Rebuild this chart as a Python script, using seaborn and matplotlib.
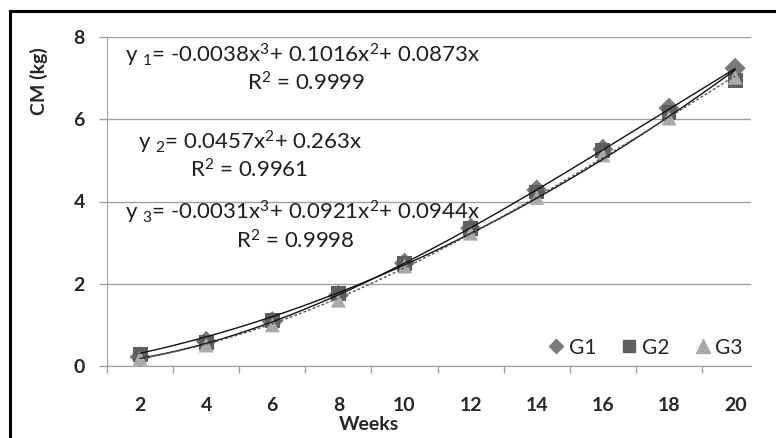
import matplotlib
matplotlib.use("Agg")
import matplotlib.pyplot as plt
import seaborn as sns
import pandas as pd
import numpy as np
from matplotlib.patches import Rectangle
from matplotlib.lines import Line2D

weeks = [2, 4, 6, 8, 10, 12, 14, 16, 18, 20]
g1 = [0.22, 0.60, 1.08, 1.72, 2.50, 3.35, 4.28, 5.27, 6.27, 7.24]
g2 = [0.27, 0.58, 1.10, 1.77, 2.50, 3.35, 4.23, 5.25, 6.17, 6.95]
g3 = [0.19, 0.51, 1.00, 1.60, 2.43, 3.23, 4.10, 5.13, 6.03, 7.02]
groups = ["G1", "G2", "G3"]

# trendline coefficients (x = category index), highest power first
coef1 = [-0.0038, 0.1016, 0.0873, 0]
coef2 = [0.0457, 0.263, 0]
coef3 = [-0.0031, 0.0921, 0.0944, 0]

sns.set_style("white")
plt.rcParams['font.family'] = ['Lato', 'DejaVu Sans']
plt.rcParams['mathtext.fontset'] = 'custom'
plt.rcParams['mathtext.rm'] = 'Lato'
plt.rcParams['mathtext.it'] = 'Lato'

idx = np.arange(1, len(weeks) + 1)
DF = pd.DataFrame({
    "idx": np.tile(idx, 3),
    "CM": g1 + g2 + g3,
    "grp": np.repeat(groups, len(weeks)),
})

fig = plt.figure(figsize=(7.76, 4.38), dpi=100)
ax = fig.add_axes([107/776, 1-366/438, (751-107)/776, (366-37)/438])

# trend lines
xs = np.linspace(1, 10, 200)
trend = pd.DataFrame({"x": np.tile(xs, 3),
                      "y": np.concatenate([np.polyval(coef1, xs),
                                           np.polyval(coef2, xs),
                                           np.polyval(coef3, xs)]),
                      "t": np.repeat(["y1", "y2", "y3"], len(xs))})

sns.scatterplot(data=DF, x="idx", y="CM", hue="grp", style="grp",
                markers={"G1": "D", "G2": "s", "G3": "^"},
                palette={"G1": "#7a7a7a", "G2": "#5f5f5f", "G3": "#a9a9a9"},
                s=115, linewidth=0, ax=ax, zorder=3, legend=False)
sns.lineplot(data=trend, x="x", y="y", hue="t", style="t",
             palette={"y1": "#111111", "y2": "#111111", "y3": "#555555"},
             dashes={"y1": "", "y2": "", "y3": (2, 1.5)},
             linewidth=1, ax=ax, legend=False, zorder=4)

ax.set_xlim(0.5, 10.24)
ax.set_ylim(0, 8)
ax.set_yticks([0, 2, 4, 6, 8])
ax.set_xticks(idx)
ax.set_xticklabels([str(w) for w in weeks])
ax.set_xticks(np.arange(0.5, 10.2, 1), minor=True)
ax.tick_params(axis="x", which="major", length=0, pad=22, labelsize=14)
ax.tick_params(axis="x", which="minor", length=5, width=1, color="#a0a0a0", bottom=True)
ax.tick_params(axis="y", length=6, width=1, color="#a0a0a0", left=True, labelsize=14, pad=10)
for lab in ax.get_xticklabels() + ax.get_yticklabels():
    lab.set_fontweight("bold")

ax.grid(axis="y", color="#a0a0a0", linewidth=1)
ax.set_axisbelow(True)
for s in ["top", "right"]:
    ax.spines[s].set_visible(False)
ax.spines["left"].set_color("#a0a0a0")
ax.spines["bottom"].set_color("#a0a0a0")

ax.set_xlabel("")
ax.set_ylabel("")
fig.text(369/776, 1-425/438, "Weeks", ha="center", va="center", fontsize=14, fontweight="bold")
fig.text(39/776, 1-81/438, "CM (kg)", ha="center", va="center", rotation=90, fontsize=14, fontweight="bold")

tc = "#1e1e1e"
fs = 16
fig.text(125/776, 1-55/438, r"y $_1$= -0.0038x$^3$+ 0.1016x$^2$+ 0.0873x", ha="left", va="center", fontsize=fs, color=tc)
fig.text(306/776, 1-83/438, r"R$^2$ = 0.9999", ha="center", va="center", fontsize=fs, color=tc)
fig.text(138/776, 1-142/438, r"y $_2$= 0.0457x$^2$+ 0.263x", ha="left", va="center", fontsize=fs, color=tc)
fig.text(249/776, 1-170/438, r"R$^2$ = 0.9961", ha="center", va="center", fontsize=fs, color=tc)
fig.text(125/776, 1-212/438, r"y $_3$= -0.0031x$^3$+ 0.0921x$^2$+ 0.0944x", ha="left", va="center", fontsize=fs, color=tc)
fig.text(295/776, 1-241/438, r"R$^2$ = 0.9998", ha="center", va="center", fontsize=fs, color=tc)

# legend
handles = [Line2D([], [], marker="D", color="#7a7a7a", linestyle="", markersize=7),
           Line2D([], [], marker="s", color="#5f5f5f", linestyle="", markersize=9),
           Line2D([], [], marker="^", color="#a9a9a9", linestyle="", markersize=10)]
ax.legend(handles, groups, loc="lower right", ncol=3, frameon=False, fontsize=15,
          handletextpad=0.0, columnspacing=1.0, handlelength=1.2,
          bbox_to_anchor=(1.0, 0.0), borderaxespad=0.0)

fig.patches.append(Rectangle((10/776, -0.2), 2.0, 1-11/438 + 0.2, transform=fig.transFigure,
                             fill=False, edgecolor="black", linewidth=2.2))

plt.savefig("out.png", dpi=100)
